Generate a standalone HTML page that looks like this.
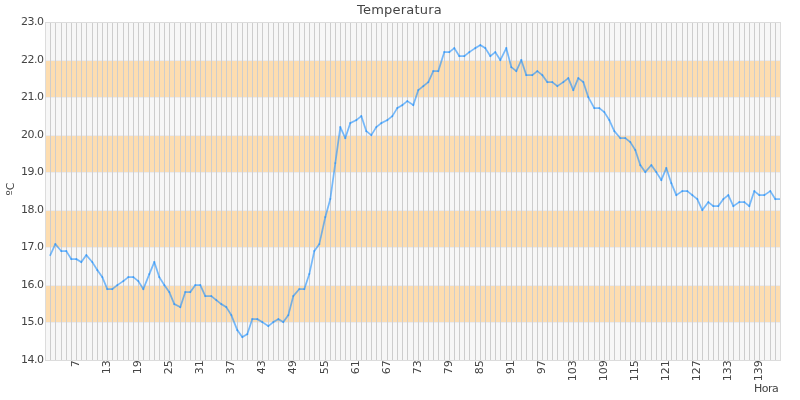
<!DOCTYPE html>
<html lang="es"><head><meta charset="utf-8"><title>Temperatura</title>
<style>html,body{margin:0;padding:0;background:#fff;overflow:hidden}body{width:800px;height:400px}svg{display:block}text{font-family:"DejaVu Sans","Liberation Sans",sans-serif;fill:#444}</style></head><body>
<svg width="800" height="400" viewBox="0 0 800 400">
<rect x="0" y="0" width="800" height="400" fill="#fff"/>
<g shape-rendering="crispEdges">
<rect x="45" y="22" width="736" height="38" fill="#F7F7F7"/>
<rect x="45" y="60" width="736" height="37" fill="#FDDDB0"/>
<rect x="45" y="97" width="736" height="38" fill="#F7F7F7"/>
<rect x="45" y="135" width="736" height="37" fill="#FDDDB0"/>
<rect x="45" y="172" width="736" height="38" fill="#F7F7F7"/>
<rect x="45" y="210" width="736" height="37" fill="#FDDDB0"/>
<rect x="45" y="247" width="736" height="38" fill="#F7F7F7"/>
<rect x="45" y="285" width="736" height="37" fill="#FDDDB0"/>
<rect x="45" y="322" width="736" height="38" fill="#F7F7F7"/>
</g>
<g stroke="#EAEBEF" stroke-width="1" shape-rendering="crispEdges">
<path d="M45 22.5H780"/>
<path d="M45 60.5H780"/>
<path d="M45 97.5H780"/>
<path d="M45 135.5H780"/>
<path d="M45 172.5H780"/>
<path d="M45 210.5H780"/>
<path d="M45 247.5H780"/>
<path d="M45 285.5H780"/>
<path d="M45 322.5H780"/>
<path d="M45 360.5H780"/>
</g>
<g stroke="#CDCDCD" stroke-width="1" shape-rendering="crispEdges">
<path d="M45.5 22V361M50.5 22V361M55.5 22V361M61.5 22V361M66.5 22V361M71.5 22V361M76.5 22V361M81.5 22V361M86.5 22V361M92.5 22V361M97.5 22V361M102.5 22V361M107.5 22V361M112.5 22V361M117.5 22V361M123.5 22V361M128.5 22V361M133.5 22V361M138.5 22V361M143.5 22V361M149.5 22V361M154.5 22V361M159.5 22V361M164.5 22V361M169.5 22V361M174.5 22V361M180.5 22V361M185.5 22V361M190.5 22V361M195.5 22V361M200.5 22V361M205.5 22V361M211.5 22V361M216.5 22V361M221.5 22V361M226.5 22V361M231.5 22V361M237.5 22V361M242.5 22V361M247.5 22V361M252.5 22V361M257.5 22V361M262.5 22V361M268.5 22V361M273.5 22V361M278.5 22V361M283.5 22V361M288.5 22V361M293.5 22V361M299.5 22V361M304.5 22V361M309.5 22V361M314.5 22V361M319.5 22V361M325.5 22V361M330.5 22V361M335.5 22V361M340.5 22V361M345.5 22V361M350.5 22V361M356.5 22V361M361.5 22V361M366.5 22V361M371.5 22V361M376.5 22V361M381.5 22V361M387.5 22V361M392.5 22V361M397.5 22V361M402.5 22V361M407.5 22V361M413.5 22V361M418.5 22V361M423.5 22V361M428.5 22V361M433.5 22V361M438.5 22V361M444.5 22V361M449.5 22V361M454.5 22V361M459.5 22V361M464.5 22V361M469.5 22V361M475.5 22V361M480.5 22V361M485.5 22V361M490.5 22V361M495.5 22V361M500.5 22V361M506.5 22V361M511.5 22V361M516.5 22V361M521.5 22V361M526.5 22V361M532.5 22V361M537.5 22V361M542.5 22V361M547.5 22V361M552.5 22V361M557.5 22V361M563.5 22V361M568.5 22V361M573.5 22V361M578.5 22V361M583.5 22V361M588.5 22V361M594.5 22V361M599.5 22V361M604.5 22V361M609.5 22V361M614.5 22V361M620.5 22V361M625.5 22V361M630.5 22V361M635.5 22V361M640.5 22V361M645.5 22V361M651.5 22V361M656.5 22V361M661.5 22V361M666.5 22V361M671.5 22V361M676.5 22V361M682.5 22V361M687.5 22V361M692.5 22V361M697.5 22V361M702.5 22V361M708.5 22V361M713.5 22V361M718.5 22V361M723.5 22V361M728.5 22V361M733.5 22V361M739.5 22V361M744.5 22V361M749.5 22V361M754.5 22V361M759.5 22V361M764.5 22V361M770.5 22V361M775.5 22V361M780.5 22V361"/>
</g>
<rect x="45.5" y="22.5" width="735" height="338" fill="none" stroke="#DCDCDC" stroke-width="1" shape-rendering="crispEdges"/>
<clipPath id="pc"><rect x="45" y="22" width="735" height="339"/></clipPath>
<g clip-path="url(#pc)" fill="none" stroke="#2491FC" stroke-width="1.7" stroke-linecap="square" stroke-opacity="0.62">
<path d="M50.3 255.1L55.3 244.1"/>
<path d="M55.3 244.1L61.3 251.1"/>
<path d="M61.3 251.1L66.3 251.1"/>
<path d="M66.3 251.1L71.3 259.1"/>
<path d="M71.3 259.1L76.3 259.1"/>
<path d="M76.3 259.1L81.3 262.1"/>
<path d="M81.3 262.1L86.3 255.1"/>
<path d="M86.3 255.1L92.3 262.1"/>
<path d="M92.3 262.1L97.3 270.1"/>
<path d="M97.3 270.1L102.3 277.1"/>
<path d="M102.3 277.1L107.3 289.1"/>
<path d="M107.3 289.1L112.3 289.1"/>
<path d="M112.3 289.1L117.3 285.1"/>
<path d="M117.3 285.1L123.3 281.1"/>
<path d="M123.3 281.1L128.3 277.1"/>
<path d="M128.3 277.1L133.3 277.1"/>
<path d="M133.3 277.1L138.3 281.1"/>
<path d="M138.3 281.1L143.3 289.1"/>
<path d="M143.3 289.1L149.3 274.1"/>
<path d="M149.3 274.1L154.3 262.1"/>
<path d="M154.3 262.1L159.3 277.1"/>
<path d="M159.3 277.1L164.3 285.1"/>
<path d="M164.3 285.1L169.3 292.1"/>
<path d="M169.3 292.1L174.3 304.1"/>
<path d="M174.3 304.1L180.3 307.1"/>
<path d="M180.3 307.1L185.3 292.1"/>
<path d="M185.3 292.1L190.3 292.1"/>
<path d="M190.3 292.1L195.3 285.1"/>
<path d="M195.3 285.1L200.3 285.1"/>
<path d="M200.3 285.1L205.3 296.1"/>
<path d="M205.3 296.1L211.3 296.1"/>
<path d="M211.3 296.1L216.3 300.1"/>
<path d="M216.3 300.1L221.3 304.1"/>
<path d="M221.3 304.1L226.3 307.1"/>
<path d="M226.3 307.1L231.3 315.1"/>
<path d="M231.3 315.1L237.3 330.1"/>
<path d="M237.3 330.1L242.3 337.1"/>
<path d="M242.3 337.1L247.3 334.1"/>
<path d="M247.3 334.1L252.3 319.1"/>
<path d="M252.3 319.1L257.3 319.1"/>
<path d="M257.3 319.1L262.3 322.1"/>
<path d="M262.3 322.1L268.3 326.1"/>
<path d="M268.3 326.1L273.3 322.1"/>
<path d="M273.3 322.1L278.3 319.1"/>
<path d="M278.3 319.1L283.3 322.1"/>
<path d="M283.3 322.1L288.3 315.1"/>
<path d="M288.3 315.1L293.3 296.1"/>
<path d="M293.3 296.1L299.3 289.1"/>
<path d="M299.3 289.1L304.3 289.1"/>
<path d="M304.3 289.1L309.3 274.1"/>
<path d="M309.3 274.1L314.3 251.1"/>
<path d="M314.3 251.1L319.3 244.1"/>
<path d="M319.3 244.1L325.3 217.1"/>
<path d="M325.3 217.1L330.3 199.1"/>
<path d="M330.3 199.1L335.3 163.1"/>
<path d="M335.3 163.1L340.3 127.1"/>
<path d="M340.3 127.1L345.3 138.1"/>
<path d="M345.3 138.1L350.3 123.1"/>
<path d="M350.3 123.1L356.3 120.1"/>
<path d="M356.3 120.1L361.3 116.1"/>
<path d="M361.3 116.1L366.3 131.1"/>
<path d="M366.3 131.1L371.3 135.1"/>
<path d="M371.3 135.1L376.3 127.1"/>
<path d="M376.3 127.1L381.3 123.1"/>
<path d="M381.3 123.1L387.3 120.1"/>
<path d="M387.3 120.1L392.3 116.1"/>
<path d="M392.3 116.1L397.3 108.1"/>
<path d="M397.3 108.1L402.3 105.1"/>
<path d="M402.3 105.1L407.3 101.1"/>
<path d="M407.3 101.1L413.3 105.1"/>
<path d="M413.3 105.1L418.3 90.1"/>
<path d="M418.3 90.1L423.3 86.1"/>
<path d="M423.3 86.1L428.3 82.1"/>
<path d="M428.3 82.1L433.3 71.1"/>
<path d="M433.3 71.1L438.3 71.1"/>
<path d="M438.3 71.1L444.3 52.1"/>
<path d="M444.3 52.1L449.3 52.1"/>
<path d="M449.3 52.1L454.3 48.1"/>
<path d="M454.3 48.1L459.3 56.1"/>
<path d="M459.3 56.1L464.3 56.1"/>
<path d="M464.3 56.1L469.3 52.1"/>
<path d="M469.3 52.1L475.3 48.1"/>
<path d="M475.3 48.1L480.3 45.1"/>
<path d="M480.3 45.1L485.3 48.1"/>
<path d="M485.3 48.1L490.3 56.1"/>
<path d="M490.3 56.1L495.3 52.1"/>
<path d="M495.3 52.1L500.3 60.1"/>
<path d="M500.3 60.1L506.3 48.1"/>
<path d="M506.3 48.1L511.3 67.1"/>
<path d="M511.3 67.1L516.3 71.1"/>
<path d="M516.3 71.1L521.3 60.1"/>
<path d="M521.3 60.1L526.3 75.1"/>
<path d="M526.3 75.1L532.3 75.1"/>
<path d="M532.3 75.1L537.3 71.1"/>
<path d="M537.3 71.1L542.3 75.1"/>
<path d="M542.3 75.1L547.3 82.1"/>
<path d="M547.3 82.1L552.3 82.1"/>
<path d="M552.3 82.1L557.3 86.1"/>
<path d="M557.3 86.1L563.3 82.1"/>
<path d="M563.3 82.1L568.3 78.1"/>
<path d="M568.3 78.1L573.3 90.1"/>
<path d="M573.3 90.1L578.3 78.1"/>
<path d="M578.3 78.1L583.3 82.1"/>
<path d="M583.3 82.1L588.3 97.1"/>
<path d="M588.3 97.1L594.3 108.1"/>
<path d="M594.3 108.1L599.3 108.1"/>
<path d="M599.3 108.1L604.3 112.1"/>
<path d="M604.3 112.1L609.3 120.1"/>
<path d="M609.3 120.1L614.3 131.1"/>
<path d="M614.3 131.1L620.3 138.1"/>
<path d="M620.3 138.1L625.3 138.1"/>
<path d="M625.3 138.1L630.3 142.1"/>
<path d="M630.3 142.1L635.3 150.1"/>
<path d="M635.3 150.1L640.3 165.1"/>
<path d="M640.3 165.1L645.3 172.1"/>
<path d="M645.3 172.1L651.3 165.1"/>
<path d="M651.3 165.1L656.3 172.1"/>
<path d="M656.3 172.1L661.3 180.1"/>
<path d="M661.3 180.1L666.3 168.1"/>
<path d="M666.3 168.1L671.3 183.1"/>
<path d="M671.3 183.1L676.3 195.1"/>
<path d="M676.3 195.1L682.3 191.1"/>
<path d="M682.3 191.1L687.3 191.1"/>
<path d="M687.3 191.1L692.3 195.1"/>
<path d="M692.3 195.1L697.3 199.1"/>
<path d="M697.3 199.1L702.3 210.1"/>
<path d="M702.3 210.1L708.3 202.1"/>
<path d="M708.3 202.1L713.3 206.1"/>
<path d="M713.3 206.1L718.3 206.1"/>
<path d="M718.3 206.1L723.3 199.1"/>
<path d="M723.3 199.1L728.3 195.1"/>
<path d="M728.3 195.1L733.3 206.1"/>
<path d="M733.3 206.1L739.3 202.1"/>
<path d="M739.3 202.1L744.3 202.1"/>
<path d="M744.3 202.1L749.3 206.1"/>
<path d="M749.3 206.1L754.3 191.1"/>
<path d="M754.3 191.1L759.3 195.1"/>
<path d="M759.3 195.1L764.3 195.1"/>
<path d="M764.3 195.1L770.3 191.1"/>
<path d="M770.3 191.1L775.3 199.1"/>
<path d="M775.3 199.1L780.3 199.1"/>
</g>
<text x="399.5" y="14" text-anchor="middle" font-size="13px" fill="#3a3a3a" letter-spacing="0.2">Temperatura</text>
<g font-size="11px" text-anchor="end" letter-spacing="-0.5" fill="#484848">
<text x="43.4" y="25">23.0</text>
<text x="43.4" y="63">22.0</text>
<text x="43.4" y="100">21.0</text>
<text x="43.4" y="138">20.0</text>
<text x="43.4" y="175">19.0</text>
<text x="43.4" y="213">18.0</text>
<text x="43.4" y="250">17.0</text>
<text x="43.4" y="288">16.0</text>
<text x="43.4" y="325">15.0</text>
<text x="43.4" y="363">14.0</text>
</g>
<g font-size="11px" text-anchor="end" fill="#484848">
<text x="78.90" y="360.2" transform="rotate(-90 78.90 360.2)">7</text>
<text x="109.90" y="360.2" transform="rotate(-90 109.90 360.2)">13</text>
<text x="140.90" y="360.2" transform="rotate(-90 140.90 360.2)">19</text>
<text x="171.90" y="360.2" transform="rotate(-90 171.90 360.2)">25</text>
<text x="202.90" y="360.2" transform="rotate(-90 202.90 360.2)">31</text>
<text x="233.90" y="360.2" transform="rotate(-90 233.90 360.2)">37</text>
<text x="264.90" y="360.2" transform="rotate(-90 264.90 360.2)">43</text>
<text x="295.90" y="360.2" transform="rotate(-90 295.90 360.2)">49</text>
<text x="327.90" y="360.2" transform="rotate(-90 327.90 360.2)">55</text>
<text x="358.90" y="360.2" transform="rotate(-90 358.90 360.2)">61</text>
<text x="389.90" y="360.2" transform="rotate(-90 389.90 360.2)">67</text>
<text x="420.90" y="360.2" transform="rotate(-90 420.90 360.2)">73</text>
<text x="451.90" y="360.2" transform="rotate(-90 451.90 360.2)">79</text>
<text x="482.90" y="360.2" transform="rotate(-90 482.90 360.2)">85</text>
<text x="513.90" y="360.2" transform="rotate(-90 513.90 360.2)">91</text>
<text x="544.90" y="360.2" transform="rotate(-90 544.90 360.2)">97</text>
<text x="575.90" y="360.2" transform="rotate(-90 575.90 360.2)">103</text>
<text x="606.90" y="360.2" transform="rotate(-90 606.90 360.2)">109</text>
<text x="637.90" y="360.2" transform="rotate(-90 637.90 360.2)">115</text>
<text x="668.90" y="360.2" transform="rotate(-90 668.90 360.2)">121</text>
<text x="699.90" y="360.2" transform="rotate(-90 699.90 360.2)">127</text>
<text x="730.90" y="360.2" transform="rotate(-90 730.90 360.2)">133</text>
<text x="761.90" y="360.2" transform="rotate(-90 761.90 360.2)">139</text>
</g>
<text x="14" y="189.1" font-size="11px" text-anchor="middle" fill="#505050" transform="rotate(-90 14 189.1)">ºC</text>
<text x="778.2" y="392" font-size="11px" text-anchor="end" fill="#505050" letter-spacing="-0.54">Hora</text>
</svg></body></html>
